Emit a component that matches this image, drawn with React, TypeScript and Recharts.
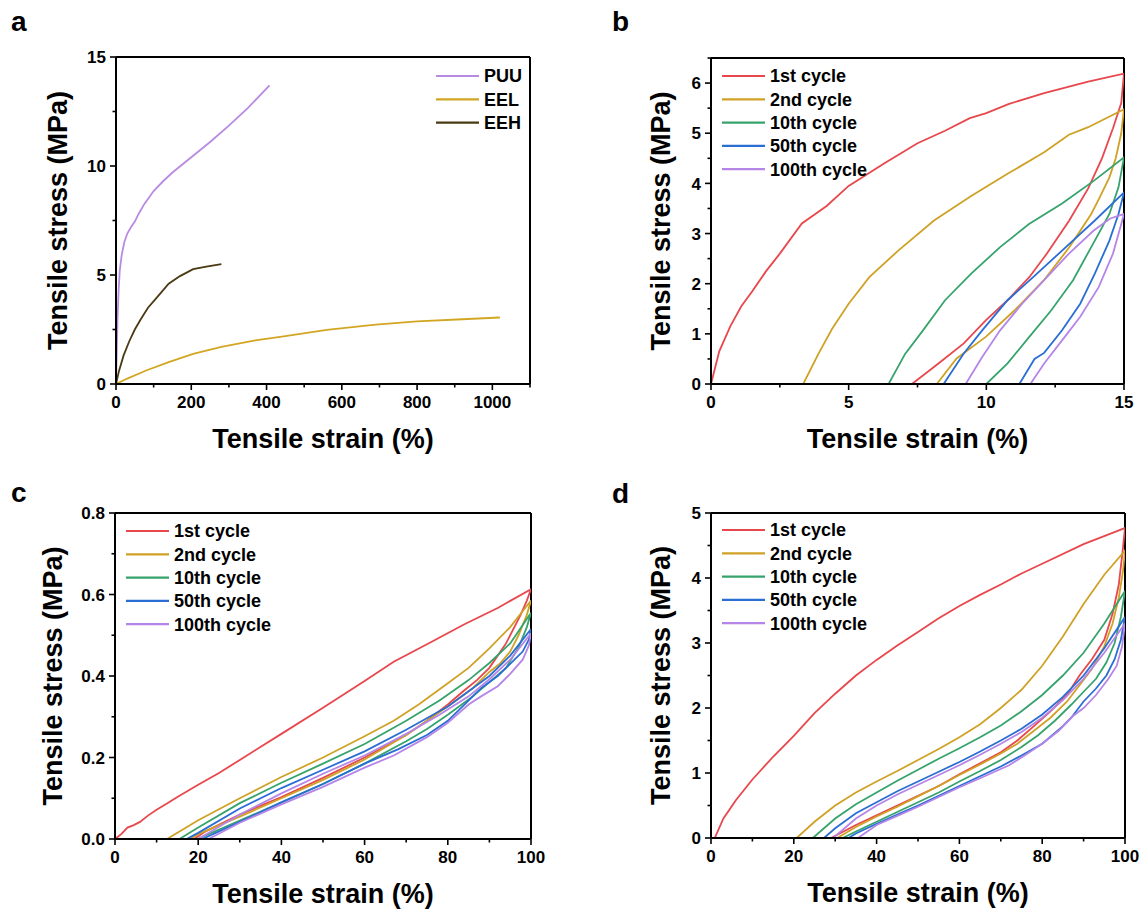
import React from 'react';
import { LineChart, Line, XAxis, YAxis, ReferenceLine, Legend } from 'recharts';

type Pt = { x: number; y: number };
const toPts = (arr: number[][]): Pt[] => arr.map(([x, y]) => ({ x, y }));

const FONT = "'Liberation Sans', Arial, Helvetica, sans-serif";

// ---------- colours ----------
const C_RED = '#E8474C';
const C_GOLD = '#CFA226';
const C_GREEN = '#36A36C';
const C_BLUE = '#2A6ED4';
const C_PURPLE = '#B585E8';
const C_PUU = '#B88AE2';
const C_EEL = '#D2A623';
const C_EEH = '#4A3A12';

// ---------- panel a : strain (%), stress (MPa) ----------
const puu = [[0,0],[2,1.5],[4,3],[7,4.3],[10,5.2],[15,5.9],[22,6.5],[30,6.9],[40,7.2],[50,7.45],[60,7.8],[75,8.25],[100,8.85],[125,9.3],[150,9.7],[200,10.4],[250,11.1],[300,11.85],[350,12.65],[408,13.7]];
const eel = [[0,0],[30,0.25],[80,0.62],[140,1.0],[205,1.38],[280,1.7],[370,2.0],[450,2.2],[560,2.48],[690,2.72],[800,2.87],[920,2.97],[1020,3.05]];
const eeh = [[0,0],[8,0.6],[20,1.3],[35,1.95],[50,2.5],[65,2.95],[85,3.5],[110,4.0],[140,4.6],[170,4.95],[205,5.27],[240,5.38],[280,5.5]];

// ---------- panel b : 15 % cyclic ----------
const b1 = [[0,0],[0.3,0.65],[0.7,1.15],[1.1,1.55],[1.5,1.85],[2.0,2.25],[2.5,2.6],[3.3,3.2],[4.2,3.55],[5.0,3.95],[6.3,4.4],[7.5,4.8],[8.5,5.05],[9.4,5.3],[10,5.4],[10.8,5.58],[12.1,5.8],[13.7,6.03],[15,6.19],
  [14.9,5.6],[14.6,5.1],[14.2,4.5],[13.7,3.9],[13.0,3.25],[12.2,2.6],[11.56,2.13],[10.77,1.67],[9.98,1.27],[9.18,0.81],[8.26,0.41],[7.3,0]];
const b2 = [[3.35,0],[3.9,0.6],[4.4,1.1],[5.0,1.6],[5.75,2.13],[6.8,2.66],[8.1,3.26],[9.45,3.75],[10.8,4.2],[12.1,4.62],[13.0,4.97],[13.7,5.12],[15,5.48],
  [14.9,5.0],[14.7,4.5],[14.47,4.12],[14.1,3.7],[13.81,3.39],[13.02,2.73],[12.09,2.07],[11.03,1.47],[9.98,0.94],[8.92,0.51],[8.2,0]];
const b10 = [[6.45,0],[7.05,0.6],[7.7,1.07],[8.5,1.67],[9.45,2.2],[10.5,2.73],[11.55,3.19],[12.75,3.6],[13.9,4.05],[15,4.52],
  [14.8,3.92],[14.47,3.39],[13.81,2.73],[13.15,2.07],[12.36,1.47],[11.56,0.94],[10.77,0.41],[10.0,0]];
const b50 = [[8.45,0],[9.18,0.61],[9.85,1.07],[10.77,1.67],[11.7,2.13],[12.75,2.66],[13.94,3.26],[15,3.82],
  [14.8,3.39],[14.47,2.86],[13.94,2.2],[13.41,1.6],[12.75,1.07],[12.1,0.62],[11.75,0.5],[11.2,0]];
const b100 = [[9.25,0],[9.85,0.54],[10.5,1.07],[11.3,1.6],[12.1,2.07],[13.0,2.6],[13.9,3.06],[14.5,3.3],[15,3.39],
  [14.87,3.13],[14.6,2.6],[14.08,1.93],[13.41,1.34],[12.75,0.87],[12.1,0.41],[11.6,0]];

// ---------- panel c : 100 % cyclic (low stress) ----------
const c1 = [[0,0],[1.5,0.012],[3,0.028],[4.5,0.034],[6,0.042],[8,0.058],[10,0.072],[12.5,0.087],[15,0.103],[20,0.133],[25,0.162],[30,0.194],[40,0.258],[50,0.322],[60,0.388],[67,0.435],[75,0.478],[84,0.527],[92,0.567],[100,0.613],
  [99,0.585],[97.5,0.55],[96,0.52],[94,0.48],[92,0.45],[90,0.42],[87,0.39],[84,0.365],[80,0.33],[75,0.29],[70,0.255],[60,0.2],[50,0.15],[40,0.103],[30,0.06],[22,0.02],[19,0]];
const c2 = [[12.5,0],[20,0.046],[30,0.1],[40,0.152],[50,0.2],[60,0.252],[67,0.29],[73,0.33],[80,0.382],[85,0.42],[90,0.468],[95,0.52],[100,0.585],
  [99,0.55],[97,0.5],[95,0.46],[92.5,0.43],[90,0.41],[86,0.37],[80,0.325],[75,0.29],[70,0.255],[60,0.195],[50,0.145],[40,0.1],[30,0.055],[20,0.012],[18,0]];
const c10 = [[15.5,0],[20,0.028],[30,0.088],[40,0.138],[50,0.185],[60,0.233],[70,0.29],[78,0.34],[85,0.39],[90,0.432],[95,0.48],[100,0.555],
  [99,0.52],[97,0.47],[94,0.42],[90,0.385],[86,0.35],[80,0.305],[75,0.27],[70,0.24],[60,0.185],[50,0.135],[40,0.09],[30,0.045],[19.8,0]];
const c50 = [[17.2,0],[20,0.015],[30,0.075],[40,0.125],[50,0.17],[60,0.215],[70,0.268],[80,0.325],[86,0.37],[90,0.4],[95,0.45],[100,0.515],
  [99.5,0.49],[98,0.46],[95,0.43],[92,0.4],[88,0.37],[84,0.33],[80,0.29],[75,0.255],[68,0.22],[60,0.185],[50,0.135],[40,0.09],[30,0.042],[21,0]];
const c100 = [[20,0],[30,0.06],[40,0.112],[50,0.16],[60,0.205],[70,0.258],[78,0.305],[85,0.35],[90,0.392],[95,0.44],[100,0.505],
  [99.5,0.475],[98,0.44],[95,0.405],[92,0.375],[88,0.35],[85,0.33],[80,0.285],[75,0.25],[67,0.205],[60,0.175],[50,0.128],[40,0.085],[30,0.04],[22.5,0]];

// ---------- panel d : 100 % cyclic (high stress) ----------
const d1 = [[0.9,0],[3,0.3],[6,0.58],[10,0.9],[15,1.25],[20,1.57],[25,1.92],[30,2.22],[35,2.5],[40,2.74],[45,2.96],[50,3.17],[55,3.38],[60,3.57],[65,3.74],[70,3.9],[75,4.07],[80,4.22],[90,4.52],[100,4.77],
  [99.4,4.4],[98.5,3.9],[97,3.45],[95,3.05],[92,2.75],[89,2.5],[86,2.2],[82,1.95],[78,1.72],[74,1.5],[70,1.32],[65,1.15],[60,0.98],[55,0.8],[50,0.65],[45,0.5],[40,0.35],[35,0.2],[29,0]];
const d2 = [[20.7,0],[25,0.25],[30,0.5],[35,0.7],[40,0.87],[45,1.03],[50,1.2],[55,1.37],[60,1.55],[65,1.75],[70,2.0],[75,2.28],[80,2.65],[85,3.1],[90,3.6],[95,4.05],[100,4.42],
  [99.5,4.1],[98.5,3.7],[97,3.3],[95,2.95],[92,2.6],[89,2.35],[86,2.1],[82,1.85],[78,1.65],[74,1.45],[70,1.3],[65,1.13],[60,0.97],[55,0.8],[50,0.64],[45,0.48],[40,0.33],[35,0.17],[30.5,0]];
const d10 = [[24.6,0],[30,0.3],[35,0.52],[40,0.7],[45,0.88],[50,1.05],[55,1.22],[60,1.38],[65,1.55],[70,1.73],[75,1.95],[80,2.2],[85,2.5],[90,2.85],[95,3.3],[100,3.8],
  [99,3.4],[97.5,3.0],[95.5,2.7],[93,2.45],[90,2.25],[87,2.05],[83,1.8],[79,1.58],[75,1.4],[70,1.2],[65,1.03],[60,0.87],[55,0.7],[50,0.55],[45,0.4],[40,0.25],[35,0.1],[31.8,0]];
const d50 = [[27.3,0],[30,0.15],[35,0.38],[40,0.55],[45,0.72],[50,0.87],[55,1.02],[60,1.17],[65,1.33],[70,1.5],[75,1.68],[80,1.9],[85,2.17],[90,2.5],[95,2.92],[100,3.4],
  [99,3.05],[97.5,2.75],[95.5,2.5],[93,2.3],[90,2.1],[87,1.85],[85,1.72],[80,1.45],[75,1.27],[70,1.1],[65,0.95],[60,0.8],[55,0.65],[50,0.5],[45,0.36],[40,0.22],[35,0.07],[33.2,0]];
const d100 = [[29.5,0],[35,0.3],[40,0.5],[45,0.67],[50,0.82],[55,0.97],[60,1.12],[65,1.28],[70,1.45],[75,1.63],[80,1.85],[85,2.12],[90,2.45],[95,2.85],[100,3.3],
  [99.3,2.95],[98,2.65],[96,2.45],[93,2.2],[90,2.0],[87.5,1.88],[84,1.65],[80,1.45],[76,1.28],[72,1.12],[65,0.92],[60,0.78],[55,0.63],[50,0.48],[45,0.34],[40,0.2],[35.5,0]];

// ---------- names & ticks ----------
const namesA = ['PUU', 'EEL', 'EEH'];
const cycleNames = ['1st cycle', '2nd cycle', '10th cycle', '50th cycle', '100th cycle'];
const cycleColors = [C_RED, C_GOLD, C_GREEN, C_BLUE, C_PURPLE];

const xMajorA = [0, 200, 400, 600, 800, 1000];
const xMinorA = [100, 300, 500, 700, 900, 1100];
const yMajorA = [0, 5, 10, 15];
const yMinorA = [2.5, 7.5, 12.5];

const xMajorB = [0, 5, 10, 15];
const xMinorB = [2.5, 7.5, 12.5];
const yMajorB = [0, 1, 2, 3, 4, 5, 6];
const yMinorB = [0.5, 1.5, 2.5, 3.5, 4.5, 5.5, 6.5];

const xMajorCD = [0, 20, 40, 60, 80, 100];
const xMinorCD = [10, 30, 50, 70, 90];
const yMajorC = [0, 0.2, 0.4, 0.6, 0.8];
const yMinorC = [0.1, 0.3, 0.5, 0.7];
const yMajorD = [0, 1, 2, 3, 4, 5];
const yMinorD = [0.5, 1.5, 2.5, 3.5, 4.5];

type Series = { name: string; color: string; data: Pt[] };

const seriesA: Series[] = [
  { name: namesA[0], color: C_PUU, data: toPts(puu) },
  { name: namesA[1], color: C_EEL, data: toPts(eel) },
  { name: namesA[2], color: C_EEH, data: toPts(eeh) },
];
const mkCycles = (arrs: number[][][]): Series[] =>
  arrs.map((a, i) => ({ name: cycleNames[i], color: cycleColors[i], data: toPts(a) }));
const seriesB = mkCycles([b1, b2, b10, b50, b100]);
const seriesC = mkCycles([c1, c2, c10, c50, c100]);
const seriesD = mkCycles([d1, d2, d10, d50, d100]);

const isIn = (arr: number[], v: number) => arr.some((m) => Math.abs(m - v) < 1e-9);

const XTick = (majors: number[], fmt: (v: number) => string) => (props: any) => {
  const { x, y, payload } = props;
  const v = payload.value;
  const major = isIn(majors, v);
  return (
    <g>
      <line x1={x} x2={x} y1={y} y2={y + (major ? 6 : 3.5)} stroke="#000" strokeWidth={1.6} />
      {major && (
        <text x={x} y={y + 24} textAnchor="middle" fontSize={17} fontWeight="bold" fontFamily={FONT} fill="#000">
          {fmt(v)}
        </text>
      )}
    </g>
  );
};

const YTick = (majors: number[], fmt: (v: number) => string) => (props: any) => {
  const { x, y, payload } = props;
  const v = payload.value;
  const major = isIn(majors, v);
  return (
    <g>
      <line x1={x} x2={x - (major ? 6 : 3.5)} y1={y} y2={y} stroke="#000" strokeWidth={1.6} />
      {major && (
        <text x={x - 10} y={y} dy="0.36em" textAnchor="end" fontSize={17} fontWeight="bold" fontFamily={FONT} fill="#000">
          {fmt(v)}
        </text>
      )}
    </g>
  );
};

type PanelProps = {
  letter: string;
  left: number;
  top: number;
  plot: { l: number; r: number; t: number; b: number };
  xDomain: [number, number];
  yDomain: [number, number];
  xMajor: number[];
  xMinor: number[];
  yMajor: number[];
  yMinor: number[];
  xFmt: (v: number) => string;
  yFmt: (v: number) => string;
  series: Series[];
  legendX: number;
  legendY: number;
  yTitleX: number;
};

const W = 571;
const H = 455;

const Panel = (p: PanelProps) => {
  const { plot } = p;
  const rowH = 23.3;
  const legH = p.series.length * rowH + 6;
  const xTicks = [...p.xMajor, ...p.xMinor].sort((a, b) => a - b);
  const yTicks = [...p.yMajor, ...p.yMinor].sort((a, b) => a - b);
  const cx = (plot.l + plot.r) / 2;
  const cy = (plot.t + plot.b) / 2;
  return (
    <div style={{ position: 'absolute', left: p.left, top: p.top, width: W, height: H }}>
      <LineChart
        width={W}
        height={H}
        margin={{ top: plot.t, right: W - plot.r, bottom: 0, left: 0 }}
        style={{ fontFamily: FONT }}
      >
        <XAxis
          type="number"
          dataKey="x"
          domain={p.xDomain}
          ticks={xTicks}
          interval={0}
          allowDataOverflow
          height={H - plot.b}
          tickSize={0}
          tickMargin={0}
          tickLine={false}
          axisLine={{ stroke: '#000', strokeWidth: 2 }}
          tick={XTick(p.xMajor, p.xFmt)}
          label={() => (
            <text x={cx} y={plot.b + 64} textAnchor="middle" fontSize={27} fontWeight="bold" fontFamily={FONT} fill="#000">
              Tensile strain (%)
            </text>
          )}
        />
        <YAxis
          type="number"
          dataKey="y"
          domain={p.yDomain}
          ticks={yTicks}
          interval={0}
          allowDataOverflow
          width={plot.l}
          tickSize={0}
          tickMargin={0}
          tickLine={false}
          axisLine={{ stroke: '#000', strokeWidth: 2 }}
          tick={YTick(p.yMajor, p.yFmt)}
          label={() => (
            <text
              x={p.yTitleX}
              y={cy}
              transform={`rotate(-90 ${p.yTitleX} ${cy})`}
              textAnchor="middle"
              fontSize={27}
              fontWeight="bold"
              fontFamily={FONT}
              fill="#000"
            >
              Tensile stress (MPa)
            </text>
          )}
        />
        <ReferenceLine y={p.yDomain[1]} stroke="#000" strokeWidth={2} />
        <ReferenceLine x={p.xDomain[1]} stroke="#000" strokeWidth={2} />
        {p.series.map((s) => (
          <Line
            key={s.name}
            data={s.data}
            dataKey="y"
            name={s.name}
            type="linear"
            stroke={s.color}
            strokeWidth={1.8}
            dot={false}
            activeDot={false}
            isAnimationActive={false}
          />
        ))}
        <Legend
          layout="vertical"
          align="center"
          verticalAlign="middle"
          wrapperStyle={{ left: p.legendX, top: p.legendY - 10, width: 170, height: legH, margin: 0, padding: 0 }}
          content={() => (
            <svg width={170} height={legH} style={{ display: 'block', overflow: 'visible' }}>
              {p.series.map((s, i) => (
                <g key={s.name}>
                  <line x1={0} x2={43} y1={10 + i * rowH} y2={10 + i * rowH} stroke={s.color} strokeWidth={2.2} />
                  <text x={48} y={10 + i * rowH} dy="0.36em" fontSize={18} fontWeight="bold" fontFamily={FONT} fill="#000">
                    {s.name}
                  </text>
                </g>
              ))}
            </svg>
          )}
        />
      </LineChart>
    </div>
  );
};

const letterStyle = (left: number, top: number): React.CSSProperties => ({
  position: 'absolute',
  left,
  top,
  fontFamily: FONT,
  fontWeight: 'bold',
  fontSize: 28,
  lineHeight: '28px',
  color: '#000',
});

const fmtInt = (v: number) => String(v);
const fmt1 = (v: number) => v.toFixed(1);

export default function App() {
  return (
    <div style={{ position: 'absolute', left: 0, top: 0, width: 1142, height: 910, background: '#fff', overflow: 'hidden' }}>
      <Panel
        letter="a" left={0} top={0}
        plot={{ l: 116, r: 530, t: 57, b: 384 }}
        xDomain={[0, 1100]} yDomain={[0, 15]}
        xMajor={xMajorA} xMinor={xMinorA} yMajor={yMajorA} yMinor={yMinorA}
        xFmt={fmtInt} yFmt={fmtInt}
        series={seriesA}
        legendX={436} legendY={76} yTitleX={67}
      />
      <Panel
        letter="b" left={571} top={0}
        plot={{ l: 140, r: 553, t: 58, b: 384 }}
        xDomain={[0, 15]} yDomain={[0, 6.5]}
        xMajor={xMajorB} xMinor={xMinorB} yMajor={yMajorB} yMinor={yMinorB}
        xFmt={fmtInt} yFmt={fmtInt}
        series={seriesB}
        legendX={151} legendY={76} yTitleX={99}
      />
      <Panel
        letter="c" left={0} top={455}
        plot={{ l: 115, r: 531, t: 58, b: 384 }}
        xDomain={[0, 100]} yDomain={[0, 0.8]}
        xMajor={xMajorCD} xMinor={xMinorCD} yMajor={yMajorC} yMinor={yMinorC}
        xFmt={fmtInt} yFmt={fmt1}
        series={seriesC}
        legendX={126} legendY={75.5} yTitleX={62}
      />
      <Panel
        letter="d" left={571} top={455}
        plot={{ l: 140, r: 554, t: 58, b: 383 }}
        xDomain={[0, 100]} yDomain={[0, 5]}
        xMajor={xMajorCD} xMinor={xMinorCD} yMajor={yMajorD} yMinor={yMinorD}
        xFmt={fmtInt} yFmt={fmtInt}
        series={seriesD}
        legendX={151} legendY={75} yTitleX={99}
      />
      <div style={letterStyle(11, 8)}>a</div>
      <div style={letterStyle(612, 8)}>b</div>
      <div style={letterStyle(11, 479)}>c</div>
      <div style={letterStyle(612, 480)}>d</div>
    </div>
  );
}
